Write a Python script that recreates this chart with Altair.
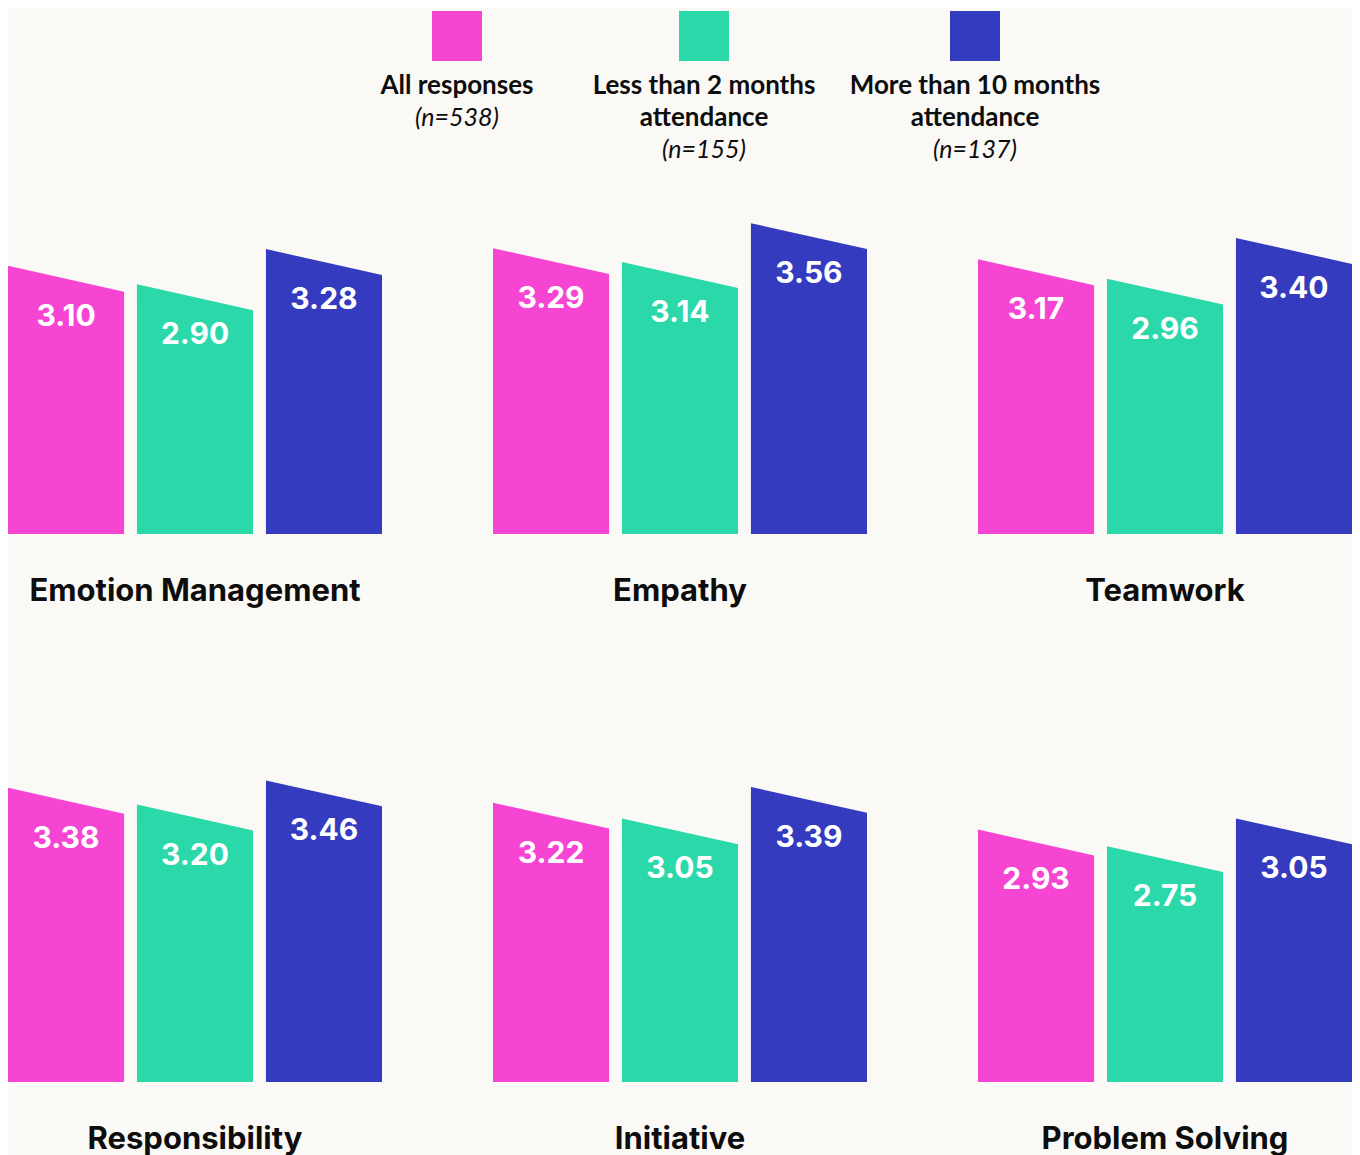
import altair as alt
import pandas as pd

# ---- data ----
categories = ["Emotion Management", "Empathy", "Teamwork",
              "Responsibility", "Initiative", "Problem Solving"]
groups = ["All responses", "Less than 2 months attendance", "More than 10 months attendance"]
legend_lines = [["All responses"], ["Less than 2 months", "attendance"], ["More than 10 months", "attendance"]]
legend_n = ["(n=538)", "(n=155)", "(n=137)"]
all_vals = [3.10, 3.29, 3.17, 3.38, 3.22, 2.93]
short_vals = [2.90, 3.14, 2.96, 3.20, 3.05, 2.75]
long_vals = [3.28, 3.56, 3.40, 3.46, 3.39, 3.05]

colors = ["#F745D3", "#2BD8A9", "#343BBF"]
BG = "#FAF9F5"
INK = "#0d0d0d"

# style constants
PANEL_W = 374
PANEL_H = 333
COL_GAP = 111
ROW_GAP = 215
Y_MIN, Y_MAX = 0.2, 3.8
BAR_FRAC = 0.9          # bar width as a fraction of the bar pitch
SLOPE = 0.28            # drop of the slanted top (in value units)

series = [all_vals, short_vals, long_vals]
rows = []
for ci, cat in enumerate(categories):
    for gi, g in enumerate(groups):
        v = series[gi][ci]
        for edge in (0, 1):
            rows.append({"category": cat, "group": g, "gi": gi, "value": v,
                         "edge": edge, "label": f"{v:.2f}"})
df = pd.DataFrame(rows)

leg_rows = []
for gi, g in enumerate(groups):
    for li, t in enumerate(legend_lines[gi]):
        leg_rows.append({"group": g, "gi": gi, "line": li, "text": t, "kind": "name"})
    leg_rows.append({"group": g, "gi": gi, "line": len(legend_lines[gi]), "text": legend_n[gi], "kind": "n"})
leg_df = pd.DataFrame(leg_rows)
sq_df = pd.DataFrame({"group": groups, "gi": list(range(len(groups)))})

# ---- bars ----
xscale = alt.Scale(domain=[0, 2 + BAR_FRAC], nice=False, zero=False)
yscale = alt.Scale(domain=[Y_MIN, Y_MAX], nice=False, zero=False)
cscale = alt.Scale(domain=groups, range=colors)

base = alt.Chart().transform_calculate(
    px=f"datum.gi + datum.edge * {BAR_FRAC}",
    py=f"datum.value - datum.edge * {SLOPE}",
    pbase=f"{Y_MIN}",
    xc=f"datum.gi + {BAR_FRAC / 2}",
)

area = base.mark_area(opacity=1, interpolate="linear").encode(
    x=alt.X("px:Q", scale=xscale, axis=None),
    y=alt.Y("py:Q", scale=yscale, axis=None, stack=None),
    y2="pbase:Q",
    color=alt.Color("group:N", scale=cscale, legend=None),
)

labels = base.transform_filter("datum.edge == 0").mark_text(
    font="Inter", fontSize=30, fontWeight="bold", color="white",
    baseline="middle", align="center", dy=51,
).encode(
    x=alt.X("xc:Q", scale=xscale, axis=None),
    y=alt.Y("value:Q", scale=yscale, axis=None),
    text="label:N",
)

titles = base.transform_filter("datum.edge == 0 && datum.gi == 0").mark_text(
    font="Inter", fontSize=31, fontWeight="bold", color=INK,
    baseline="middle", align="center",
).encode(
    x=alt.value(PANEL_W / 2),
    y=alt.value(PANEL_H + 58),
    text="category:N",
)

panels = alt.layer(area, labels, titles, data=df).properties(
    width=PANEL_W, height=PANEL_H
).facet(
    facet=alt.Facet("category:N", sort=categories,
                    header=alt.Header(labels=False, labelExpr="''", labelPadding=0,
                                      titlePadding=0),
                    title=""),
    columns=3,
    spacing={"row": ROW_GAP, "column": COL_GAP},
    bounds="flush",
)

# ---- legend ----
lx = alt.X("gi:Q", scale=alt.Scale(domain=[0, 1, 2], range=[449, 696, 967]), axis=None)
ly = alt.Y("line:Q", scale=alt.Scale(domain=[0, 2], range=[78, 142]), axis=None)

squares = alt.Chart(sq_df).mark_square(
    size=2500, opacity=1, filled=True
).encode(
    x=lx, y=alt.value(28),
    color=alt.Color("group:N", scale=cscale, legend=None),
)
names = alt.Chart(leg_df).transform_filter("datum.kind == 'name'").mark_text(
    font="Lato", fontSize=26, fontWeight="bold", color=INK, baseline="middle", align="center"
).encode(x=lx, y=ly, text="text:N")
ns = alt.Chart(leg_df).transform_filter("datum.kind == 'n'").mark_text(
    font="Lato", fontSize=25, fontStyle="italic", fontWeight="normal", color=INK,
    baseline="middle", align="center"
).encode(x=lx, y=ly, text="text:N")

legend = alt.layer(squares, names, ns).properties(
    width=PANEL_W * 3 + COL_GAP * 2, height=160
)

chart = alt.vconcat(legend, panels, spacing=23).properties(
    background=BG, padding=0
).configure_view(stroke=None).configure_header(labels=False, title=None)

chart.save("out.html", embed_options={"renderer": "svg", "actions": False})
